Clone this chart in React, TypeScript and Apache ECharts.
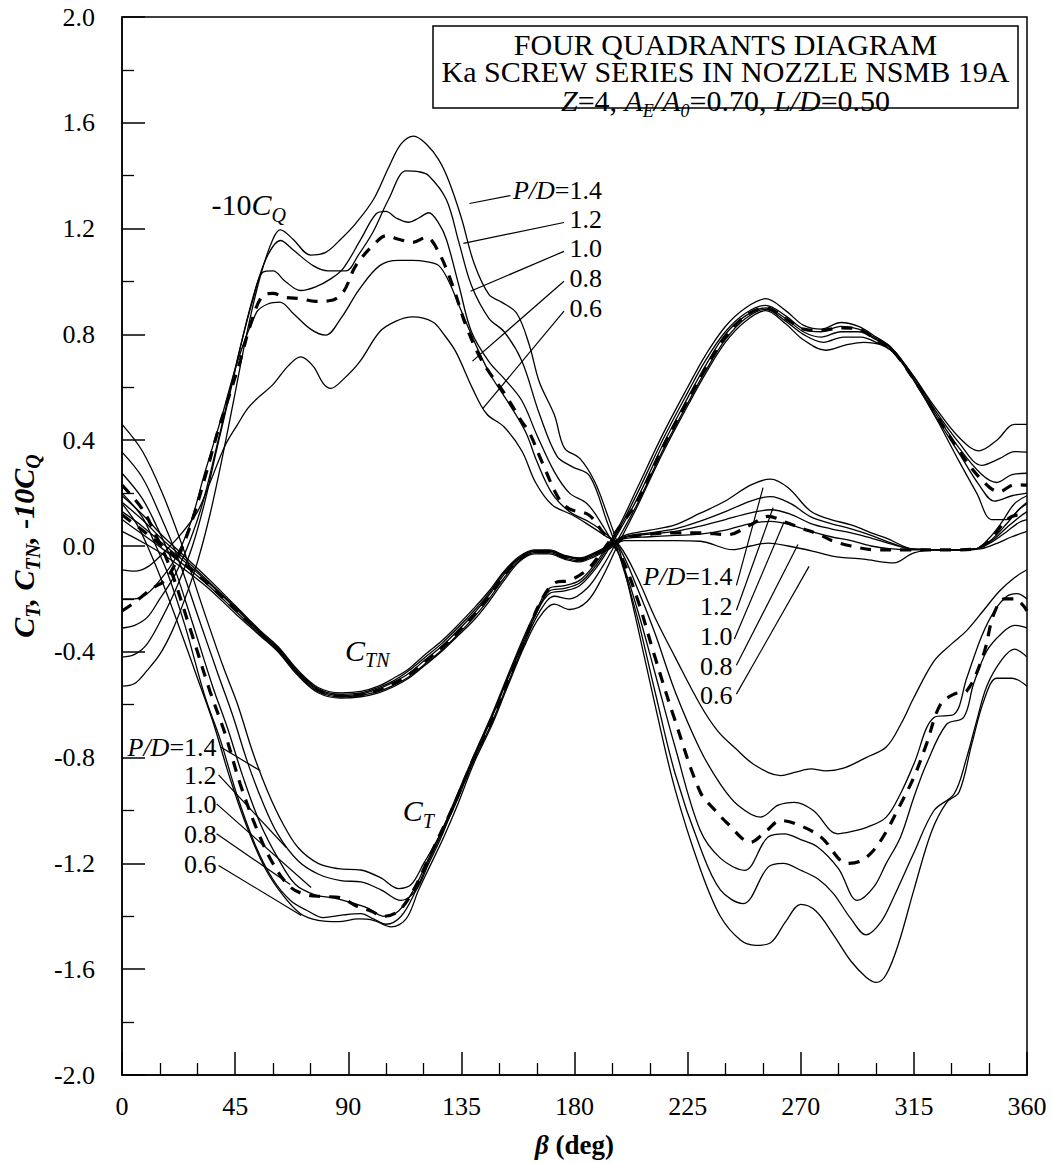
import React, { useEffect, useRef } from "react";
import * as echarts from "echarts";

const FONT = "Liberation Serif";

// ---------------- data: beta (deg) vs coefficient ----------------
// C_T curves (P/D 1.4, 1.2, 1.0, dashed, 0.8, 0.6)
const CT_14 = [[0,0.46],[8,0.36],[16,0.2],[24,0.0],[32,-0.23],[40,-0.45],[46,-0.6],[52,-0.78],[58,-0.93],[64,-1.05],[70,-1.14],[78,-1.2],[86,-1.22],[95,-1.225],[103,-1.255],[110,-1.295],[115,-1.28],[120,-1.2],[126,-1.1],[132,-0.97],[140,-0.79],[147,-0.64],[153,-0.5],[160,-0.34],[165,-0.24],[170,-0.16],[176,-0.15],[182,-0.13],[188,-0.07],[193,0.0],[198,0.08],[205,0.22],[215,0.42],[225,0.6],[232,0.72],[240,0.83],[248,0.9],[256,0.935],[264,0.89],[271,0.835],[278,0.82],[286,0.845],[293,0.83],[300,0.79],[306,0.75],[315,0.64],[323,0.53],[333,0.41],[341,0.36],[348,0.4],[355,0.46],[360,0.46]];
const CT_12 = [[0,0.355],[8,0.26],[15,0.12],[22,-0.04],[30,-0.26],[38,-0.48],[44,-0.64],[50,-0.82],[56,-0.97],[62,-1.09],[70,-1.19],[78,-1.24],[87,-1.265],[95,-1.27],[103,-1.3],[111,-1.34],[117,-1.3],[122,-1.2],[127,-1.1],[132,-0.98],[140,-0.8],[147,-0.65],[153,-0.51],[160,-0.35],[165,-0.25],[170,-0.17],[176,-0.16],[182,-0.14],[188,-0.08],[193,-0.01],[198,0.07],[205,0.2],[215,0.4],[225,0.58],[232,0.7],[240,0.81],[248,0.88],[256,0.91],[264,0.87],[271,0.82],[278,0.81],[286,0.83],[293,0.82],[300,0.785],[306,0.75],[315,0.64],[323,0.52],[333,0.39],[342,0.305],[349,0.33],[355,0.357],[360,0.355]];
const CT_10 = [[0,0.275],[8,0.18],[14,0.07],[20,-0.06],[28,-0.29],[36,-0.53],[42,-0.69],[48,-0.87],[55,-1.05],[62,-1.18],[69,-1.28],[77,-1.32],[84,-1.33],[92,-1.35],[98,-1.37],[104,-1.4],[110,-1.38],[116,-1.3],[122,-1.18],[127,-1.08],[132,-0.98],[140,-0.8],[147,-0.65],[153,-0.51],[160,-0.36],[165,-0.25],[170,-0.18],[176,-0.17],[182,-0.15],[188,-0.09],[193,-0.02],[198,0.06],[205,0.18],[215,0.38],[225,0.56],[232,0.68],[240,0.8],[248,0.87],[256,0.9],[264,0.86],[271,0.81],[278,0.79],[286,0.81],[293,0.81],[300,0.78],[306,0.745],[315,0.63],[323,0.51],[333,0.37],[342,0.27],[348,0.24],[354,0.27],[360,0.275]];
const CT_D = [[0,0.23],[8,0.14],[14,0.03],[19,-0.08],[27,-0.31],[35,-0.55],[41,-0.71],[47,-0.9],[54,-1.08],[60,-1.2],[67,-1.29],[74,-1.32],[80,-1.325],[87,-1.33],[93,-1.36],[99,-1.38],[104,-1.4],[110,-1.38],[116,-1.3],[122,-1.18],[127,-1.08],[132,-0.98],[140,-0.8],[147,-0.66],[153,-0.52],[160,-0.36],[166,-0.22],[172,-0.14],[178,-0.13],[185,-0.09],[191,-0.02],[197,0.06],[205,0.17],[215,0.37],[225,0.55],[232,0.67],[240,0.79],[248,0.87],[256,0.9],[264,0.86],[271,0.82],[278,0.815],[286,0.825],[293,0.82],[300,0.78],[306,0.745],[315,0.63],[323,0.51],[333,0.36],[342,0.25],[349,0.205],[355,0.232],[360,0.23]];
const CT_08 = [[0,0.2],[8,0.11],[13,0.01],[18,-0.1],[25,-0.3],[33,-0.57],[39,-0.73],[46,-0.95],[53,-1.13],[60,-1.26],[67,-1.34],[74,-1.38],[80,-1.405],[88,-1.395],[95,-1.39],[100,-1.41],[105,-1.43],[111,-1.4],[117,-1.3],[122,-1.19],[127,-1.09],[132,-0.99],[140,-0.81],[147,-0.67],[153,-0.53],[160,-0.37],[166,-0.25],[172,-0.19],[178,-0.2],[185,-0.16],[191,-0.08],[197,0.02],[205,0.16],[215,0.36],[225,0.54],[232,0.66],[240,0.78],[248,0.86],[256,0.895],[264,0.85],[271,0.8],[279,0.77],[287,0.79],[294,0.79],[300,0.77],[306,0.74],[315,0.63],[323,0.5],[333,0.35],[341,0.23],[347,0.17],[354,0.19],[360,0.2]];
const CT_06 = [[0,0.16],[6,0.08],[11,-0.02],[17,-0.16],[24,-0.34],[30,-0.5],[36,-0.66],[43,-0.88],[50,-1.07],[57,-1.22],[64,-1.32],[71,-1.39],[78,-1.415],[86,-1.42],[94,-1.41],[100,-1.415],[107,-1.44],[113,-1.41],[118,-1.3],[123,-1.2],[128,-1.1],[133,-0.99],[140,-0.82],[147,-0.68],[153,-0.54],[160,-0.38],[166,-0.27],[172,-0.22],[178,-0.24],[185,-0.21],[191,-0.12],[197,0.0],[205,0.15],[215,0.35],[225,0.53],[232,0.65],[240,0.77],[248,0.85],[256,0.89],[264,0.84],[271,0.78],[280,0.74],[288,0.76],[295,0.77],[302,0.76],[308,0.72],[316,0.61],[324,0.48],[333,0.32],[340,0.2],[346,0.1],[352,0.1],[357,0.14],[360,0.16]];

// C_TN curves
const CTN_14 = [[0,0.19],[8,0.12],[16,0.04],[25,-0.04],[35,-0.13],[45,-0.225],[55,-0.32],[62,-0.38],[70,-0.47],[78,-0.535],[87,-0.555],[95,-0.55],[102,-0.53],[108,-0.5],[114,-0.465],[120,-0.415],[127,-0.36],[133,-0.305],[140,-0.235],[146,-0.17],[152,-0.095],[158,-0.04],[164,-0.015],[170,-0.015],[176,-0.035],[182,-0.045],[188,-0.025],[194,0.005],[200,0.04],[210,0.06],[220,0.08],[230,0.124],[240,0.17],[250,0.23],[258,0.253],[265,0.22],[274,0.131],[282,0.1],[290,0.08],[298,0.05],[304,0.03],[315,-0.012],[325,-0.015],[335,-0.015],[340,-0.01],[345,0.03],[350,0.09],[355,0.16],[360,0.19]];
const CTN_12 = [[0,0.165],[8,0.1],[16,0.025],[25,-0.05],[35,-0.14],[45,-0.23],[55,-0.325],[62,-0.385],[70,-0.475],[78,-0.54],[87,-0.56],[95,-0.555],[102,-0.535],[108,-0.51],[114,-0.472],[120,-0.425],[127,-0.37],[133,-0.315],[140,-0.245],[146,-0.178],[152,-0.1],[158,-0.045],[164,-0.018],[170,-0.018],[176,-0.037],[182,-0.047],[188,-0.028],[194,0.002],[200,0.035],[210,0.05],[220,0.065],[230,0.094],[240,0.13],[250,0.17],[258,0.187],[266,0.16],[274,0.11],[282,0.085],[290,0.065],[298,0.04],[305,0.015],[315,-0.012],[330,-0.015],[340,-0.01],[346,0.025],[352,0.085],[357,0.14],[360,0.165]];
const CTN_10 = [[0,0.13],[8,0.075],[16,0.01],[25,-0.06],[35,-0.145],[45,-0.235],[55,-0.33],[62,-0.39],[70,-0.48],[78,-0.545],[87,-0.565],[95,-0.56],[102,-0.54],[108,-0.515],[114,-0.482],[120,-0.435],[127,-0.38],[133,-0.325],[140,-0.255],[146,-0.186],[152,-0.107],[158,-0.048],[164,-0.02],[170,-0.02],[176,-0.04],[182,-0.05],[188,-0.03],[194,0.0],[200,0.032],[210,0.045],[220,0.055],[230,0.075],[240,0.1],[250,0.125],[258,0.137],[266,0.12],[274,0.085],[282,0.065],[290,0.05],[298,0.03],[305,0.01],[315,-0.012],[330,-0.015],[340,-0.01],[346,0.02],[352,0.07],[357,0.11],[360,0.13]];
const CTN_D = [[0,0.118],[8,0.06],[16,0.0],[25,-0.07],[35,-0.15],[45,-0.24],[55,-0.33],[62,-0.39],[70,-0.48],[78,-0.545],[87,-0.567],[95,-0.562],[102,-0.545],[108,-0.52],[114,-0.487],[120,-0.44],[127,-0.385],[133,-0.33],[140,-0.26],[146,-0.19],[152,-0.11],[158,-0.05],[164,-0.022],[170,-0.022],[176,-0.042],[182,-0.052],[188,-0.032],[194,-0.002],[200,0.03],[210,0.045],[220,0.05],[230,0.05],[241,0.043],[250,0.08],[257,0.112],[264,0.09],[270,0.068],[277,0.045],[283,0.018],[290,0.0],[299,-0.014],[310,-0.015],[330,-0.015],[340,-0.01],[346,0.03],[351,0.09],[355,0.115],[360,0.118]];
const CTN_08 = [[0,0.1],[8,0.045],[16,-0.01],[25,-0.075],[35,-0.155],[45,-0.245],[55,-0.335],[62,-0.395],[70,-0.485],[78,-0.55],[87,-0.57],[95,-0.565],[102,-0.55],[108,-0.527],[114,-0.495],[120,-0.45],[127,-0.395],[133,-0.34],[140,-0.27],[146,-0.2],[152,-0.12],[158,-0.055],[164,-0.025],[170,-0.025],[176,-0.045],[182,-0.055],[188,-0.035],[194,-0.005],[200,0.028],[210,0.035],[220,0.04],[230,0.045],[240,0.06],[250,0.085],[258,0.093],[266,0.08],[274,0.055],[282,0.035],[290,0.02],[298,0.0],[305,-0.01],[315,-0.015],[330,-0.015],[340,-0.01],[346,0.015],[352,0.055],[357,0.09],[360,0.1]];
const CTN_06 = [[0,0.055],[8,0.015],[16,-0.03],[25,-0.09],[35,-0.165],[45,-0.255],[55,-0.34],[62,-0.4],[70,-0.49],[78,-0.555],[87,-0.575],[95,-0.57],[102,-0.555],[108,-0.532],[114,-0.5],[120,-0.455],[127,-0.4],[133,-0.345],[140,-0.28],[146,-0.21],[152,-0.13],[158,-0.06],[164,-0.03],[170,-0.03],[176,-0.05],[182,-0.06],[188,-0.04],[194,-0.01],[200,0.02],[210,0.02],[220,0.02],[230,0.018],[243,-0.014],[250,0.0],[257,0.011],[265,0.0],[275,-0.02],[283,-0.039],[295,-0.05],[307,-0.064],[315,-0.026],[325,-0.015],[335,-0.015],[342,-0.01],[348,0.01],[354,0.035],[360,0.055]];

// -10 C_Q curves
const CQ_14 = [[0,-0.53],[5,-0.52],[10,-0.47],[15,-0.41],[20,-0.32],[25,-0.2],[30,-0.06],[35,0.12],[40,0.34],[45,0.58],[50,0.82],[55,1.02],[60,1.16],[63,1.195],[68,1.16],[75,1.1],[81,1.11],[87,1.16],[93,1.22],[100,1.31],[106,1.43],[111,1.52],[116,1.55],[121,1.52],[126,1.46],[130,1.38],[135,1.24],[140,1.07],[146,0.95],[151,0.922],[157,0.88],[162,0.76],[166,0.62],[172,0.495],[176,0.37],[182,0.332],[188,0.244],[193,0.12],[198,-0.02],[205,-0.3],[212,-0.6],[220,-0.92],[230,-1.22],[238,-1.4],[246,-1.49],[252,-1.51],[258,-1.5],[264,-1.42],[270,-1.355],[276,-1.38],[283,-1.47],[290,-1.57],[296,-1.63],[300,-1.65],[304,-1.62],[309,-1.5],[315,-1.3],[322,-1.08],[328,-0.97],[333,-0.93],[338,-0.75],[343,-0.58],[348,-0.5],[354,-0.5],[360,-0.53]];
const CQ_12 = [[0,-0.42],[5,-0.41],[10,-0.37],[16,-0.27],[22,-0.15],[28,0.0],[33,0.17],[38,0.38],[43,0.58],[48,0.79],[53,0.97],[58,1.1],[63,1.155],[68,1.12],[76,1.06],[82,1.04],[89,1.04],[94,1.1],[100,1.19],[106,1.31],[113,1.418],[118,1.415],[122,1.4],[129,1.31],[134,1.148],[139,0.985],[146,0.86],[152,0.81],[159,0.7],[166,0.5],[173,0.34],[179,0.3],[186,0.265],[193,0.09],[198,-0.04],[205,-0.27],[212,-0.55],[220,-0.86],[230,-1.14],[238,-1.3],[247,-1.352],[257,-1.214],[263,-1.2],[270,-1.226],[277,-1.26],[283,-1.314],[290,-1.41],[296,-1.47],[302,-1.42],[307,-1.327],[315,-1.16],[323,-1.0],[331,-0.937],[336,-0.8],[340,-0.66],[344,-0.53],[350,-0.43],[355,-0.39],[360,-0.42]];
const CQ_10 = [[0,-0.31],[5,-0.3],[10,-0.27],[15,-0.2],[21,-0.11],[27,0.02],[32,0.16],[37,0.35],[42,0.55],[47,0.75],[52,0.93],[56,1.035],[60,1.04],[65,1.0],[71,0.966],[77,0.98],[83,1.01],[88,1.05],[95,1.16],[101,1.255],[105,1.265],[109,1.24],[114,1.224],[118,1.24],[122,1.26],[126,1.22],[129,1.16],[134,0.985],[139,0.81],[146,0.696],[152,0.633],[159,0.55],[165,0.42],[172,0.28],[178,0.2],[185,0.16],[191,0.08],[198,-0.04],[205,-0.24],[212,-0.48],[220,-0.76],[230,-1.075],[238,-1.18],[247.6,-1.226],[257,-1.1],[263.5,-1.088],[270,-1.11],[276.7,-1.138],[285,-1.22],[292.5,-1.34],[299,-1.29],[304,-1.2],[309.7,-1.1],[315,-0.95],[320,-0.824],[328,-0.674],[334.8,-0.648],[338.7,-0.523],[344,-0.397],[350,-0.33],[355,-0.3],[360,-0.31]];
const CQ_D = [[0,-0.245],[4,-0.22],[8,-0.19],[12,-0.16],[17,-0.13],[22,-0.05],[28,0.1],[33,0.26],[38,0.43],[43,0.58],[47,0.7],[51,0.834],[56,0.947],[60,0.955],[65,0.94],[71,0.935],[77,0.925],[83,0.928],[88,0.96],[93,1.06],[101,1.148],[105,1.173],[110,1.16],[115.6,1.148],[121,1.167],[126,1.11],[131.5,0.985],[136.8,0.834],[143.4,0.696],[152.6,0.57],[159,0.47],[162,0.43],[167,0.319],[173.7,0.18],[178,0.14],[185.6,0.118],[191,0.055],[198,-0.03],[205,-0.2],[212,-0.42],[220,-0.66],[230,-0.93],[236,-1.0],[241,-1.05],[250,-1.12],[256,-1.08],[262,-1.038],[268,-1.05],[278,-1.1],[288.6,-1.2],[294,-1.19],[299,-1.15],[304,-1.08],[308.4,-1.0],[315,-0.874],[320,-0.749],[325.5,-0.6],[331,-0.56],[336,-0.548],[342.7,-0.41],[346.7,-0.26],[351,-0.2],[355,-0.2],[360,-0.245]];
const CQ_08 = [[0,-0.2],[5,-0.2],[10,-0.18],[15,-0.13],[21,-0.05],[27,0.08],[33,0.28],[40,0.5],[46,0.7],[53.6,0.885],[58,0.915],[62.8,0.922],[68,0.88],[75,0.82],[81,0.797],[87,0.86],[94.5,0.972],[102.5,1.06],[110,1.08],[115.6,1.08],[121,1.075],[126,1.06],[130,1.0],[134,0.91],[142,0.734],[147,0.64],[152.6,0.558],[160.5,0.432],[165,0.32],[171,0.2],[178,0.13],[186,0.09],[192,0.05],[198,-0.01],[205,-0.16],[212,-0.33],[220,-0.55],[230,-0.77],[238,-0.9],[245,-0.98],[254,-1.025],[261,-0.98],[267.5,-0.969],[275,-1.0],[284.6,-1.088],[290,-1.08],[296.5,-1.063],[304,-1.025],[310,-0.93],[315,-0.824],[323,-0.648],[331,-0.636],[336,-0.5],[342,-0.34],[347,-0.246],[352,-0.19],[356,-0.18],[360,-0.2]];
const CQ_06 = [[0,-0.09],[5,-0.095],[10,-0.08],[16,-0.03],[23,0.04],[30,0.13],[35,0.24],[41,0.38],[46,0.46],[50,0.52],[54,0.56],[60,0.61],[66,0.68],[71,0.715],[76,0.68],[80,0.615],[83,0.596],[88,0.63],[94.5,0.696],[102.5,0.81],[109,0.85],[115.6,0.866],[123.6,0.847],[128,0.8],[132.8,0.734],[139.4,0.596],[145,0.5],[152,0.45],[159,0.36],[164.5,0.24],[171,0.156],[179,0.118],[185.6,0.08],[192,0.04],[198,0.0],[205,-0.12],[212,-0.27],[220,-0.42],[230,-0.6],[237,-0.7],[244,-0.765],[252,-0.83],[262,-0.868],[268,-0.855],[274,-0.843],[280,-0.85],[287,-0.84],[296,-0.8],[304,-0.76],[310,-0.67],[315,-0.573],[323,-0.435],[330,-0.37],[336,-0.32],[343,-0.24],[349,-0.171],[355,-0.12],[360,-0.09]];

const CURVE_TAGS = ["P/D=1.4", "P/D=1.2", "P/D=1.0", "dashed", "P/D=0.8", "P/D=0.6"];
const FAMILIES = [
  { key: "CT", curves: [CT_14, CT_12, CT_10, CT_D, CT_08, CT_06] },
  { key: "CTN", curves: [CTN_14, CTN_12, CTN_10, CTN_D, CTN_08, CTN_06] },
  { key: "-10CQ", curves: [CQ_14, CQ_12, CQ_10, CQ_D, CQ_08, CQ_06] },
];

// annotation labels (P/D values) and leader lines, in data coordinates
const PD_TEXT = ["1.4", "1.2", "1.0", "0.8", "0.6"];
const CQ_LABEL_POS = { right: 190.9, v: [1.344, 1.235, 1.125, 1.012, 0.899] };
const CQ_LEADERS = [
  [[154.5, 1.325], [138.2, 1.295]],
  [[175.8, 1.223], [135.8, 1.144]],
  [[175.8, 1.114], [138.6, 0.963]],
  [[175.8, 1.001], [139.4, 0.699]],
  [[175.8, 0.888], [143.4, 0.518]],
];
const CTN_LABEL_POS = { right: 242.8, v: [-0.115, -0.228, -0.341, -0.454, -0.567] };
const CTN_LEADERS = [
  [[244.4, -0.149], [255.0, 0.221]],
  [[244.4, -0.243], [259.0, 0.145]],
  [[243.6, -0.352], [263.4, 0.092]],
  [[244.4, -0.451], [268.9, 0.006]],
  [[244.4, -0.56], [273.3, -0.077]],
];
const CT_LABEL_POS = { right: 37.6, v: [-0.76, -0.869, -0.978, -1.091, -1.205] };
const CT_LEADERS = [
  [[39.2, -0.76], [55.0, -0.85]],
  [[38.4, -0.865], [65.3, -1.14]],
  [[37.6, -0.975], [75.2, -1.291]],
  [[37.6, -1.088], [66.9, -1.28]],
  [[38.4, -1.208], [71.3, -1.397]],
];
const FAMILY_LABELS = [
  { text: "{n|-10}{i|C}{s|Q}", at: [35.6, 1.291] },
  { text: "{i|C}{s|TN}", at: [88.7, -0.394] },
  { text: "{i|C}{s|T}", at: [111.7, -1.001] },
];
const TITLE_LINES_12 = "{t|FOUR QUADRANTS DIAGRAM}\n{t|Ka SCREW SERIES IN NOZZLE NSMB 19A}";
const TITLE_LINE_3 = "{i|Z}{n|=4, }{i|A}{s|E}{i|/A}{s|0}{n|=0.70, }{i|L/D}{n|=0.50}";

function richSet(size: number, sub: number, lh: number) {
  return {
    n: { fontFamily: FONT, fontSize: size, fill: "#000", verticalAlign: "middle", lineHeight: lh },
    i: { fontFamily: FONT, fontSize: size, fontStyle: "italic", fill: "#000", verticalAlign: "middle", lineHeight: lh },
    s: { fontFamily: FONT, fontSize: sub, fontStyle: "italic", fill: "#000", verticalAlign: "bottom", lineHeight: sub },
  };
}

function buildGraphic(chart: any) {
  const px = (p: number[]) => chart.convertToPixel({ gridIndex: 0 }, p);
  const els: any[] = [];
  const leaderGroups = [CQ_LEADERS, CTN_LEADERS, CT_LEADERS];
  leaderGroups.forEach((g) =>
    g.forEach((seg) => {
      const a = px(seg[0]);
      const b = px(seg[1]);
      els.push({
        type: "line",
        silent: true,
        shape: { x1: a[0], y1: a[1], x2: b[0], y2: b[1] },
        style: { stroke: "#000", lineWidth: 1.2 },
        z: 10,
      });
    })
  );
  const labelGroups = [CQ_LABEL_POS, CTN_LABEL_POS, CT_LABEL_POS];
  labelGroups.forEach((pos) =>
    pos.v.forEach((v, k) => {
      const p = px([pos.right, v]);
      els.push({
        type: "text",
        silent: true,
        z: 11,
        style: {
          text: k === 0 ? `{i|P/D}{n|=${PD_TEXT[k]}}` : `{n|${PD_TEXT[k]}}`,
          rich: richSet(26, 17, 28),
          x: p[0],
          y: p[1],
          align: "right",
          verticalAlign: "middle",
        },
      });
    })
  );
  FAMILY_LABELS.forEach((f) => {
    const p = px(f.at);
    els.push({
      type: "text",
      silent: true,
      z: 11,
      style: { text: f.text, rich: richSet(30, 20, 40), x: p[0], y: p[1], align: "left", verticalAlign: "middle" },
    });
  });
  // title box
  els.push({
    type: "rect",
    silent: true,
    z: 12,
    shape: { x: 433, y: 26, width: 585, height: 82 },
    style: { fill: "#fff", stroke: "#000", lineWidth: 1.5 },
  });
  els.push({
    type: "text",
    silent: true,
    z: 13,
    style: {
      text: TITLE_LINES_12,
      rich: {
        t: { fontFamily: FONT, fontSize: 30, fill: "#000", verticalAlign: "middle", lineHeight: 27 },
      },
      x: 725.5,
      y: 31,
      align: "center",
      verticalAlign: "top",
    },
  });
  els.push({
    type: "text",
    silent: true,
    z: 13,
    style: {
      text: TITLE_LINE_3,
      rich: richSet(30, 18, 40),
      x: 725.5,
      y: 100,
      align: "center",
      verticalAlign: "middle",
    },
  });
  return els;
}

export default function App() {
  const ref = useRef<HTMLDivElement>(null);
  useEffect(() => {
    if (!ref.current) return;
    const chart = echarts.init(ref.current, undefined, { renderer: "svg" });
    const series: any[] = [];
    FAMILIES.forEach((f) =>
      f.curves.forEach((c, i) => {
        series.push({
          type: "line",
          name: `${f.key} ${CURVE_TAGS[i]}`,
          data: c,
          symbol: "none",
          showSymbol: false,
          smooth: 0.35,
          silent: true,
          z: i === 3 ? 4 : 3,
          lineStyle:
            i === 3
              ? { color: "#000", width: 3.2, type: [11, 9] }
              : { color: "#000", width: 1.3 },
        });
      })
    );
    const option: any = {
      animation: false,
      backgroundColor: "#fff",
      textStyle: { fontFamily: FONT },
      grid: {
        left: 118,
        top: 17,
        width: 909,
        height: 1061,
        show: true,
        borderColor: "#000",
        borderWidth: 1.5,
        backgroundColor: "transparent",
      },
      xAxis: {
        type: "value",
        min: 0,
        max: 360,
        interval: 45,
        axisLine: { show: true, onZero: false, lineStyle: { color: "#000", width: 1.5 } },
        axisTick: { show: true, inside: true, length: 23, lineStyle: { color: "#000", width: 1.5 } },
        minorTick: { show: true, splitNumber: 3, length: 12, lineStyle: { color: "#000", width: 1.3 } },
        splitLine: { show: false },
        axisLabel: { color: "#000", fontFamily: FONT, fontSize: 26, margin: 18, showMaxLabel: true, showMinLabel: true },
        name: "{bi|β} {b|(deg)}",
        nameLocation: "middle",
        nameGap: 56,
        nameTextStyle: {
          color: "#000",
          fontFamily: FONT,
          fontSize: 27,
          fontWeight: "bold",
          rich: {
            bi: { fontFamily: FONT, fontSize: 27, fontWeight: "bold", fontStyle: "italic", color: "#000" },
            b: { fontFamily: FONT, fontSize: 27, fontWeight: "bold", color: "#000" },
          },
        },
      },
      yAxis: {
        type: "value",
        min: -2,
        max: 2,
        interval: 0.4,
        axisLine: { show: true, onZero: false, lineStyle: { color: "#000", width: 1.5 } },
        axisTick: { show: true, inside: true, length: 23, lineStyle: { color: "#000", width: 1.5 } },
        minorTick: { show: true, splitNumber: 2, length: 12, lineStyle: { color: "#000", width: 1.3 } },
        splitLine: { show: false },
        axisLabel: {
          color: "#000",
          fontFamily: FONT,
          fontSize: 26,
          margin: 27,
          formatter: (v: number) => (Math.abs(v) < 1e-9 ? "0.0" : v.toFixed(1)),
        },
        name: "{m|C}{s|T}{m|, C}{s|TN}{m|, -10C}{s|Q}",
        nameLocation: "middle",
        nameGap: 68,
        nameTextStyle: {
          color: "#000",
          fontFamily: FONT,
          fontSize: 30,
          fontWeight: "bold",
          fontStyle: "italic",
          rich: {
            m: { fontFamily: FONT, fontSize: 30, fontWeight: "bold", fontStyle: "italic", color: "#000", verticalAlign: "middle", lineHeight: 40 },
            s: { fontFamily: FONT, fontSize: 20, fontWeight: "bold", fontStyle: "italic", color: "#000", verticalAlign: "bottom", lineHeight: 20 },
          },
        },
      },
      series,
    };
    chart.setOption(option);
    chart.setOption({ graphic: { elements: buildGraphic(chart) } });
    return () => chart.dispose();
  }, []);
  return (
    <div
      ref={ref}
      style={{ position: "absolute", left: 0, top: 0, width: 1051, height: 1163, background: "#fff" }}
    />
  );
}
